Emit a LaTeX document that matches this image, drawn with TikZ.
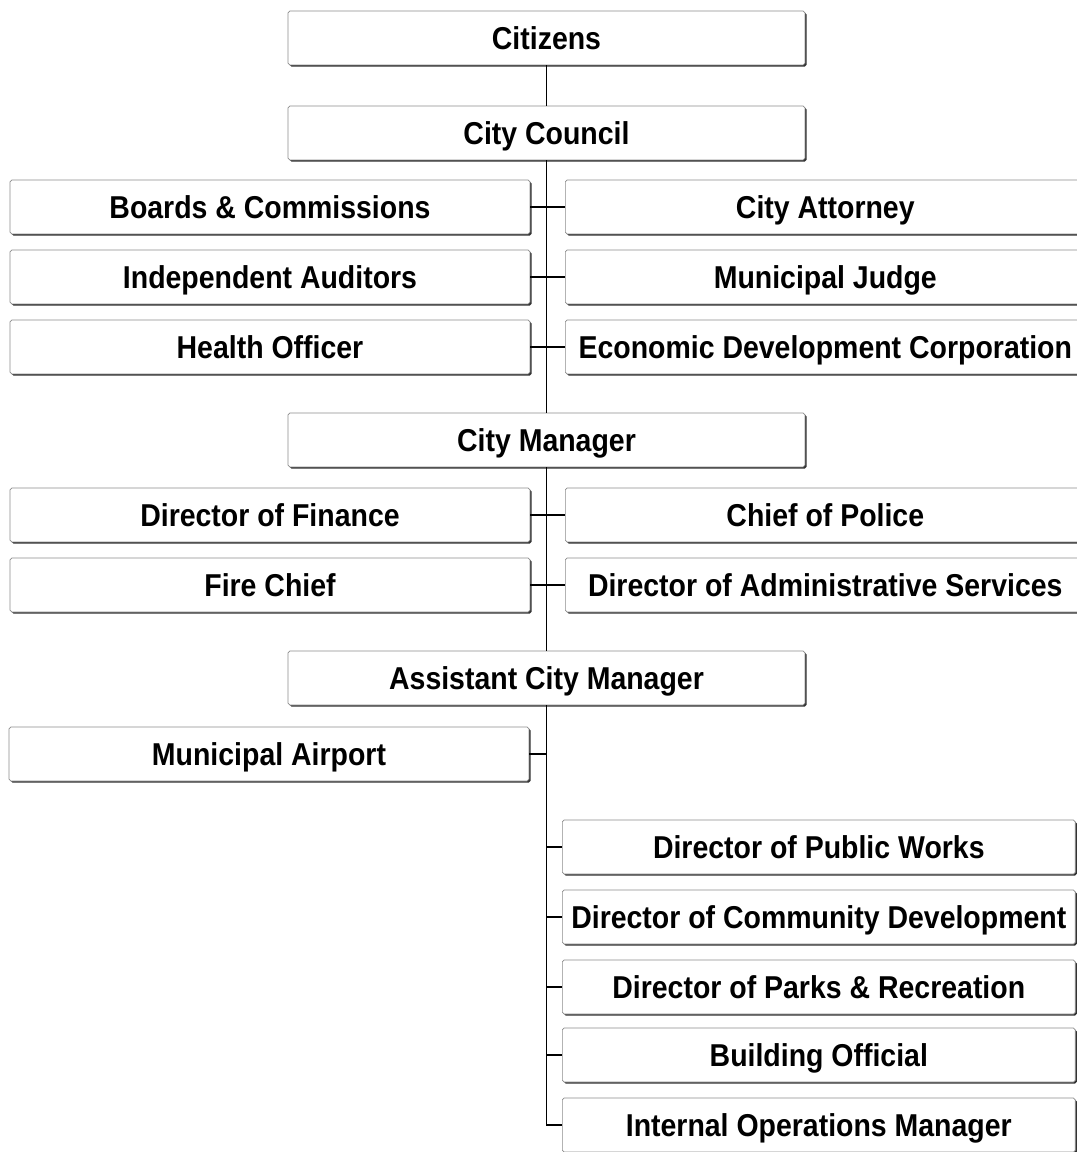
\documentclass[tikz,border=0pt]{standalone}
\usepackage{fontspec}
\setmainfont{Liberation Sans}[FakeStretch=0.9]
\usetikzlibrary{shadows}
\tikzset{
  orgbox/.style={draw=black!45, line width=0.4pt, fill=white, rounded corners=1pt,
    drop shadow={shadow xshift=0.9pt, shadow yshift=-0.9pt, fill=black!80, opacity=1},
    minimum height=1.08cm, inner sep=0pt, text height=14pt, text depth=1pt,
    font=\fontsize{18}{21}\selectfont\bfseries},
  topbox/.style={orgbox, minimum width=10.34cm},
  sidebox/.style={orgbox, minimum width=10.4cm},
  lowbox/.style={orgbox, minimum width=10.26cm},
  link/.style={line width=0.6pt, black}
}
\begin{document}
\begin{tikzpicture}[x=0.02cm,y=-0.02cm]
\useasboundingbox (0,0) rectangle (1077,1152);
% Marking the main chain
\node[topbox] (cit) at (546.5,38) {Citizens};
\node[topbox] (council) at (546.5,133) {City Council};
\node[topbox] (mgr) at (546.5,440) {City Manager};
\node[topbox] (acm) at (546.5,678) {Assistant City Manager};

% Boxes under the council
\node[sidebox] (boards) at (270,207) {Boards \& Commissions};
\node[sidebox] (auditors) at (270,277) {Independent Auditors};
\node[sidebox] (health) at (270,347) {Health Officer};
\node[sidebox, anchor=west] (attorney) at (565,207) {City Attorney};
\node[sidebox, anchor=west] (judge) at (565,277) {Municipal Judge};
\node[sidebox, anchor=west] (edc) at (565,347) {Economic Development Corporation};

% Boxes under the manager
\node[sidebox] (finance) at (270,515) {Director of Finance};
\node[sidebox] (fire) at (270,585) {Fire Chief};
\node[sidebox, anchor=west] (police) at (565,515) {Chief of Police};
\node[sidebox, anchor=west] (admin) at (565,585) {Director of Administrative Services};

% Boxes under the assistant manager
\node[sidebox] (airport) at (269,754) {Municipal Airport};
\node[lowbox, anchor=west] (works) at (562,847) {Director of Public Works};
\node[lowbox, anchor=west] (commdev) at (562,917) {Director of Community Development};
\node[lowbox, anchor=west] (parks) at (562,987) {Director of Parks \& Recreation};
\node[lowbox, anchor=west] (building) at (562,1055) {Building Official};
\node[lowbox, anchor=west] (internal) at (562,1125) {Internal Operations Manager};

% Drawing the spine
\coordinate (spineend) at (acm.south |- internal.west);
\draw[link] (cit.south) -- (council.north);
\draw[link] (council.south) -- (mgr.north);
\draw[link] (mgr.south) -- (acm.north);
\draw[link] (acm.south) -- (spineend) -- (internal.west);

% Drawing the side links
\draw[link] (boards.east) -- (attorney.west);
\draw[link] (auditors.east) -- (judge.west);
\draw[link] (health.east) -- (edc.west);
\draw[link] (finance.east) -- (police.west);
\draw[link] (fire.east) -- (admin.west);
\draw[link] (airport.east) -- (airport.east -| acm.south);
\foreach \n in {works,commdev,parks,building}
  \draw[link] (acm.south |- \n.west) -- (\n.west);
\end{tikzpicture}
\end{document}
